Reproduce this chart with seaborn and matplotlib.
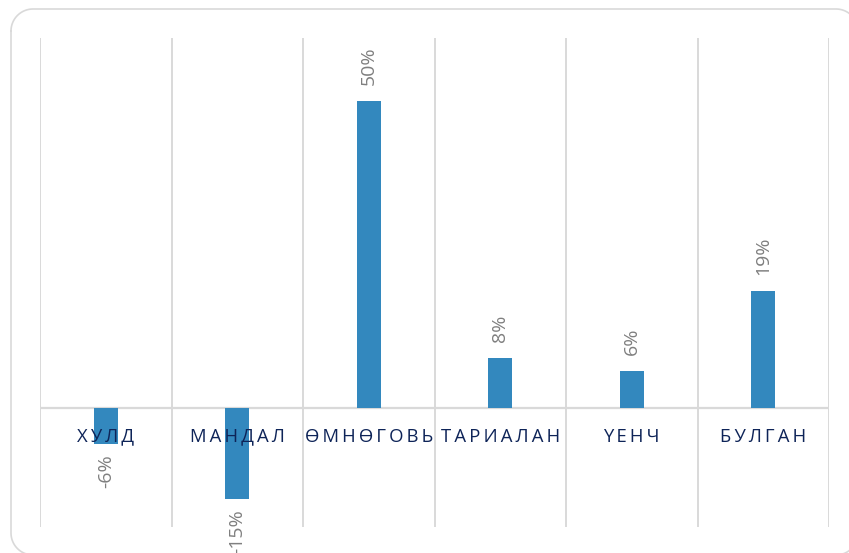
import matplotlib
matplotlib.use("Agg")
import matplotlib.pyplot as plt
import seaborn as sns
import pandas as pd
import numpy as np
from matplotlib.lines import Line2D

# Growth by soum
categories = ["ХУЛД", "МАНДАЛ", "ӨМНӨГОВЬ", "ТАРИАЛАН", "ҮЕНЧ", "БУЛГАН"]
values = [-0.06, -0.15, 0.50, 0.08, 0.06, 0.19]
value_labels = ["-6%", "-15%", "50%", "8%", "6%", "19%"]

sns.set_theme(style="white")
plt.rcParams["font.family"] = ["Open Sans", "DejaVu Sans"]

df = pd.DataFrame({"soum": categories, "value": values})

W, H = 849, 553
fig = plt.figure(figsize=(W / 100, H / 100), dpi=100)
ax = fig.add_axes([40 / W, 26 / H, 789 / W, 489 / H])

# rounded outer frame in pixel coordinates (origin top-left),
# running off the right and bottom edges
def frame_outline(x0, y0, x1, y1, r, n=24):
    pts = []
    corners = [(x0 + r, y0 + r, np.pi, np.pi / 2),              # top-left
               (x1 - r, y0 + r, np.pi / 2, 0),                  # top-right
               (x1 - r, y1 - r, 0, -np.pi / 2),                 # bottom-right
               (x0 + r, y1 - r, -np.pi / 2, -np.pi)]            # bottom-left
    for cx, cy, a0, a1 in corners:
        t = np.linspace(a0, a1, n)
        pts.extend(zip(cx + r * np.cos(t), cy - r * np.sin(t)))
    pts.append(pts[0])
    return np.array(pts)

outline = frame_outline(11, 9, 858, 555, 22)
fig.add_artist(Line2D(outline[:, 0] / W, 1 - outline[:, 1] / H,
                      transform=fig.transFigure, color="#D9D9D9",
                      linewidth=1.2, clip_on=False))

sns.barplot(data=df, x="soum", y="value", ax=ax, color="#3388BE",
            saturation=1, width=0.185, zorder=3)
for p in ax.patches:
    p.set_facecolor("#3388BE")
    p.set_edgecolor("none")

ax.set_xlim(-0.5, len(categories) - 0.5)
ax.set_ylim(-0.195, 0.603)

# category separators
for b in [i - 0.5 for i in range(len(categories) + 1)]:
    ax.axvline(b, color="#D9D9D9", linewidth=1.4, zorder=1)
ax.axhline(0, color="#D9D9D9", linewidth=1.6, zorder=2)

for s in ax.spines.values():
    s.set_visible(False)
ax.set_yticks([])
ax.set_xlabel("")
ax.set_ylabel("")
ax.tick_params(axis="x", length=0)
ax.set_xticks(range(len(categories)))
ax.set_xticklabels([])

# category names sit just below the zero line
for i, name in enumerate(categories):
    spaced = "\u2009".join(name)
    ax.annotate(spaced, xy=(i, 0), xytext=(0, -29), textcoords="offset pixels",
                ha="center", va="center", fontsize=13.3, color="#0E2458",
                zorder=5)

# rotated value labels beyond each bar end
for i, (v, lab) in enumerate(zip(values, value_labels)):
    off = 16 if v >= 0 else -10
    ax.annotate(lab, xy=(i, v), xytext=(0, off), textcoords="offset pixels",
                ha="center", va="bottom" if v >= 0 else "top", rotation=90,
                fontsize=14, color="#7F7F7F", zorder=5, annotation_clip=False)

fig.savefig("out.png", dpi=100)
